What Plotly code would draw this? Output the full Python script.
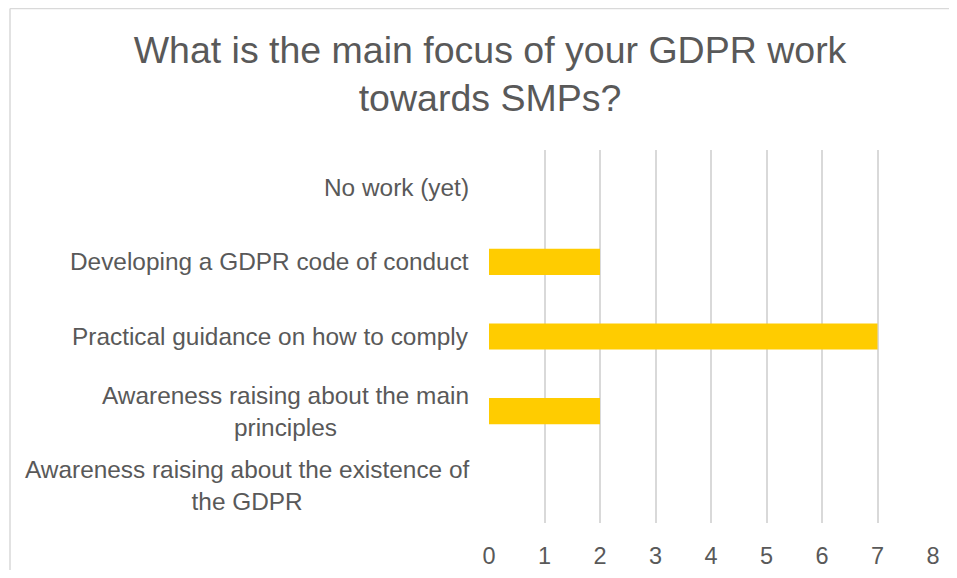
import plotly.graph_objects as go

categories = [
    "Awareness raising about the existence of<br>the GDPR",
    "Awareness raising about the main<br>principles",
    "Practical guidance on how to comply",
    "Developing a GDPR code of conduct",
    "No work (yet)",
]
values = [0, 2, 7, 2, 0]
tick_vals = [0, 1, 2, 3, 4, 5, 6, 7, 8]
title_text = "What is the main focus of your GDPR work<br>towards SMPs?"

TEXT = "#595959"
FONT = "Liberation Sans, Arial, sans-serif"

# page has an 8px body margin, so the figure is offset by 8px;
# keep figure inside the window so no scrollbars appear
OFF = 8
W, H = 957 - 2 * OFF, 578 - 2 * OFF
R_px, B_px = 957 - 933, 578 - 523          # right/bottom gaps in the window
L, T = 489 - OFF, 150 - OFF
R, B = R_px - OFF, B_px - OFF
pw, ph = W - L - R, H - T - B

def px_x(p):
    return (p - OFF - L) / pw

def px_y(p):
    return (H - B - (p - OFF)) / ph

fig = go.Figure()
fig.add_trace(go.Bar(
    y=categories, x=values, orientation="h",
    marker=dict(color="#FFCC00", line=dict(width=0)),
    hoverinfo="x+y",
))

for c in categories:
    fig.add_annotation(
        x=0, xref="paper", y=c, yref="y", text=c,
        xanchor="right", yanchor="middle", align="center", xshift=-18,
        showarrow=False, font=dict(family=FONT, size=24.4, color=TEXT),
    )

# chart-area border (top and left edges visible in the frame)
fig.add_shape(type="line", xref="paper", yref="paper",
              x0=px_x(10), x1=px_x(1000), y0=px_y(8.5), y1=px_y(8.5),
              line=dict(color="#D9D9D9", width=1.5), layer="below")
fig.add_shape(type="line", xref="paper", yref="paper",
              x0=px_x(10), x1=px_x(10), y0=px_y(8.5), y1=px_y(700),
              line=dict(color="#D9D9D9", width=1.5), layer="below")

fig.update_layout(
    width=W, height=H,
    margin=dict(l=L, r=R, t=T, b=B, autoexpand=False),
    paper_bgcolor="white", plot_bgcolor="white",
    bargap=0.65,
    showlegend=False,
    title=dict(text=title_text, x=(490 - OFF) / W, xref="container", xanchor="center",
               y=1 - 54.5 / H, yref="container", yanchor="middle",
               font=dict(family=FONT, size=37.5, color=TEXT)),
    xaxis=dict(
        range=[0, 8], tickvals=tick_vals, showgrid=True, gridcolor="#D9D9D9",
        gridwidth=1.5, zeroline=False, showline=False, ticks="", automargin=False,
        tickfont=dict(family=FONT, size=23.5, color=TEXT), ticklabelstandoff=16,
    ),
    yaxis=dict(
        categoryorder="array", categoryarray=categories, range=[-0.5, 4.5],
        showticklabels=False, showgrid=False, zeroline=False, showline=False,
        automargin=False,
    ),
    font=dict(family=FONT, color=TEXT),
)

fig.write_html("out.html")
